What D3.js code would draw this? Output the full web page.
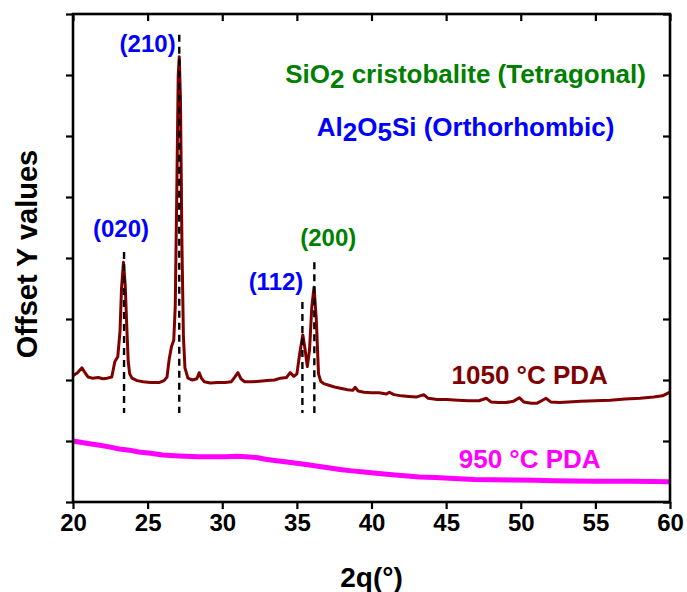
<!DOCTYPE html>
<html><head><meta charset="utf-8">
<script src="https://cdn.jsdelivr.net/npm/d3@7"></script>
<style>
body{margin:0;background:#fff}
text{font-family:"Liberation Sans",Arial,sans-serif;font-weight:bold}
</style>
</head><body>
<svg id="chart" width="687" height="592"></svg>
<script>
// 2θ values and offset intensities
const x1050 = [20.0,20.3,20.6,20.8,21.0,21.3,21.7,22.0,22.3,22.6,22.8,23.0,23.15,23.25,23.38,23.5,23.6,23.7,23.8,23.95,
  24.3,24.7,25.2,25.8,26.1,26.3,26.45,26.6,26.75,26.85,26.95,27.05,27.12,27.2,27.3,27.4,27.5,27.7,28.0,28.3,28.45,28.6,28.8,
  29.2,29.7,30.2,30.6,30.85,31.05,31.25,31.5,32.0,32.5,33.0,33.5,33.9,34.3,34.55,34.8,35.0,35.2,35.4,35.55,35.7,35.85,36.0,
  36.15,36.3,36.45,36.6,36.8,37.2,37.6,38.0,38.4,38.75,38.9,39.1,39.5,40.0,40.5,41.0,41.2,41.5,42.0,42.5,43.0,43.5,43.8,
  44.4,45.0,45.8,46.5,47.2,47.7,48.0,48.5,49.0,49.5,49.9,50.2,50.7,51.1,51.4,51.7,52.0,52.6,53.2,54.0,55.0,56.0,57.0,58.0,
  58.9,59.5,60.0];
const y1050 = [2.07,2.12,2.2,2.12,2.05,2.03,2.04,2.02,2.03,2.05,2.3,2.38,2.8,3.5,3.93,3.55,2.9,2.3,2.1,2.03,
  1.99,1.97,1.96,1.96,1.99,2.05,2.35,2.55,2.65,3.2,5.0,7.0,7.3,6.6,4.2,2.7,2.2,2.03,2.0,2.02,2.12,2.03,1.97,
  1.95,1.96,1.96,1.97,2.05,2.12,2.02,1.97,1.97,1.98,1.99,2.0,2.03,2.04,2.12,2.06,2.1,2.45,2.74,2.5,2.22,2.5,3.2,
  3.52,3.0,2.1,1.98,1.94,1.91,1.88,1.86,1.84,1.83,1.88,1.82,1.80,1.79,1.79,1.77,1.80,1.76,1.74,1.73,1.72,1.76,1.70,
  1.68,1.68,1.67,1.66,1.66,1.70,1.64,1.63,1.63,1.65,1.71,1.64,1.62,1.62,1.66,1.70,1.64,1.63,1.64,1.65,1.66,1.67,1.69,1.70,
  1.72,1.74,1.8];
const x950 = [20.0,20.5,21.0,21.8,22.5,23.1,23.8,24.4,25.2,26.0,27.1,28.4,29.3,30.25,31.0,31.6,32.3,32.9,33.5,34.2,
  35.5,36.3,37.1,38.0,38.7,39.5,40.3,41.2,42.2,43.2,44.3,45.5,46.9,48.2,49.6,51.0,52.2,53.5,54.9,56.2,57.5,58.8,60.0];
const y950 = [1.0,0.98,0.96,0.93,0.9,0.87,0.85,0.82,0.8,0.77,0.755,0.74,0.74,0.74,0.75,0.74,0.73,0.70,0.68,0.66,
  0.62,0.59,0.56,0.53,0.51,0.49,0.47,0.45,0.43,0.41,0.40,0.385,0.37,0.365,0.36,0.355,0.35,0.345,0.34,0.34,0.34,0.335,0.33];

const peakNames = ["(020)","(210)","(112)","(200)"];
const peakPos = [23.42, 27.12, 35.37, 36.17];
const dashTop = [4.10, 7.66, 3.28, 3.93];
const dashBottom = 1.46;
const peakColors = ["#0000FF","#0000FF","#0000FF","#008000"];
const labelX = [23.22, 25.0, 33.6, 37.1];
const labelY = [4.34, 7.38, 3.48, 4.2];

const xTickValues = [20,25,30,35,40,45,50,55,60];
const xMinor = d3.range(20, 61, 1);
const yMajor = d3.range(0, 8.01, 1);
const yMinor = d3.range(0, 8.01, 0.5);

const W = 687, H = 592;
const m = {left:73, right:670, top:14, bottom:502};
const svg = d3.select("#chart");
const x = d3.scaleLinear().domain([20,60]).range([m.left, m.right]);
const y = d3.scaleLinear().domain([0,8]).range([m.bottom, m.top]);

// axes
const gB = svg.append("g").attr("transform",`translate(0,${m.bottom})`);
gB.call(d3.axisBottom(x).tickValues(xMinor).tickSize(4).tickFormat(""));
gB.call(d3.axisBottom(x).tickValues(xTickValues).tickSize(7).tickPadding(5).tickFormat(d3.format("d")));
const gT = svg.append("g").attr("transform",`translate(0,${m.top})`);
gT.call(d3.axisBottom(x).tickValues(xMinor).tickSize(4).tickFormat(""));
gT.call(d3.axisBottom(x).tickValues(xTickValues).tickSize(7).tickFormat(""));
const gL = svg.append("g").attr("transform",`translate(${m.left},0)`);
gL.call(d3.axisLeft(y).tickValues(yMinor).tickSize(4).tickFormat(""));
gL.call(d3.axisLeft(y).tickValues(yMajor).tickSize(7).tickFormat(""));
const gR = svg.append("g").attr("transform",`translate(${m.right},0)`);
gR.call(d3.axisLeft(y).tickValues(yMinor).tickSize(4).tickFormat(""));
gR.call(d3.axisLeft(y).tickValues(yMajor).tickSize(7).tickFormat(""));
svg.selectAll(".domain").remove();
svg.selectAll(".tick line").attr("stroke","#000").attr("stroke-width",2.2);
gB.selectAll(".tick text").attr("font-size",24).attr("fill","#000")
  .style("font-family","'Liberation Sans',Arial,sans-serif").style("font-weight","bold");

// curves
const line = d3.line().x(d=>x(d[0])).y(d=>y(d[1]));
svg.append("path").datum(x950.map((v,i)=>[v,y950[i]]))
  .attr("d",line).attr("fill","none").attr("stroke","#FF00FF").attr("stroke-width",5).attr("stroke-linejoin","round");
svg.append("path").datum(x1050.map((v,i)=>[v,y1050[i]]))
  .attr("d",line).attr("fill","none").attr("stroke","#800000").attr("stroke-width",3).attr("stroke-linejoin","round");

// dashed reference lines
svg.selectAll(".dash").data(peakPos).enter().append("line")
  .attr("x1",d=>x(d)).attr("x2",d=>x(d))
  .attr("y1",(d,i)=>y(dashTop[i])).attr("y2",y(dashBottom))
  .attr("stroke","#000").attr("stroke-width",2.4).attr("stroke-dasharray","7,5");

// peak labels
svg.selectAll(".pl").data(peakNames).enter().append("text")
  .attr("x",(d,i)=>x(labelX[i])).attr("y",(d,i)=>y(labelY[i]))
  .attr("text-anchor","middle").attr("font-size",24).attr("fill",(d,i)=>peakColors[i]).text(d=>d);

// phase legend texts
const t1 = svg.append("text").attr("x",x(46.3)).attr("y",83).attr("text-anchor","middle")
  .attr("font-size",26).attr("fill","#008000");
t1.append("tspan").text("SiO");
t1.append("tspan").attr("dy",5).text("2");
t1.append("tspan").attr("dy",-5).text(" cristobalite (Tetragonal)");
const t2 = svg.append("text").attr("x",x(46.3)).attr("y",136).attr("text-anchor","middle")
  .attr("font-size",26).attr("fill","#0000FF");
t2.append("tspan").text("Al");
t2.append("tspan").attr("dy",5).text("2");
t2.append("tspan").attr("dy",-5).text("O");
t2.append("tspan").attr("dy",5).text("5");
t2.append("tspan").attr("dy",-5).text("Si (Orthorhombic)");

svg.append("text").attr("x",x(50.6)).attr("y",y((502-384)/61)).attr("text-anchor","middle")
  .attr("font-size",26).attr("fill","#800000").text("1050 °C PDA");
svg.append("text").attr("x",x(50.6)).attr("y",y((502-468)/61)).attr("text-anchor","middle")
  .attr("font-size",26).attr("fill","#FF00FF").text("950 °C PDA");

// frame
svg.append("rect").attr("x",m.left).attr("y",m.top).attr("width",m.right-m.left).attr("height",m.bottom-m.top)
  .attr("fill","none").attr("stroke","#000").attr("stroke-width",2.6);

// axis titles
svg.append("text").attr("x",(m.left+m.right)/2).attr("y",587).attr("text-anchor","middle")
  .attr("font-size",28).attr("fill","#000").text("2q(°)");
svg.append("text").attr("transform",`translate(37,${(m.top+m.bottom)/2 - 4}) rotate(-90)`)
  .attr("text-anchor","middle").attr("font-size",29).attr("fill","#000").text("Offset Y values");
</script>
</body></html>
